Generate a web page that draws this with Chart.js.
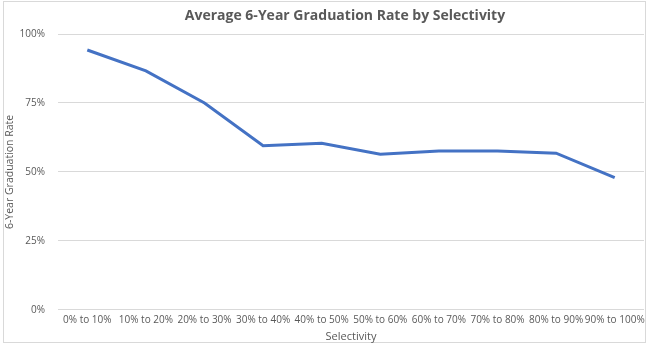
<!DOCTYPE html>
<html>
<head>
<meta charset="utf-8">
<script src="https://cdn.jsdelivr.net/npm/chart.js@4/dist/chart.umd.min.js"></script>
<style>
    body { margin: 0; background: #fff; }
    #wrap { width: 652px; height: 348px; }
</style>
</head>
<body>
<div id="wrap"><canvas id="grad-chart" width="652" height="348"></canvas></div>
<script>
"use strict";

var chartTitle = "Average 6-Year Graduation Rate by Selectivity";
var categories = ["0% to 10%", "10% to 20%", "20% to 30%", "30% to 40%", "40% to 50%",
    "50% to 60%", "60% to 70%", "70% to 80%", "80% to 90%", "90% to 100%"];
var gradRate = [94.2, 86.6, 75.0, 59.5, 60.4, 56.4, 57.6, 57.6, 56.8, 47.9];
var yTicks = [0, 25, 50, 75, 100];

var textColor = "#595959";
var gridColor = "#d9d9d9";
var fontFamily = "'Open Sans', 'Noto Sans', sans-serif";

/* frame + title drawn on the canvas, excel style */
var excelFrame = {
    id: "excelFrame",
    beforeDraw: function (chart) {
        var ctx = chart.ctx;
        ctx.save();
        ctx.fillStyle = "#fff";
        ctx.fillRect(0, 0, chart.width, chart.height);
        ctx.strokeStyle = gridColor;
        ctx.lineWidth = 1;
        ctx.strokeRect(3.5, 1.5, 642, 341);
        ctx.restore();
    },
    afterDraw: function (chart) {
        var ctx = chart.ctx;
        ctx.save();
        ctx.fillStyle = textColor;
        ctx.font = "bold 14px " + fontFamily;
        ctx.textAlign = "center";
        ctx.textBaseline = "middle";
        ctx.fillText(chartTitle, 345, 16);
        ctx.restore();
    }
};

var ctx = document.getElementById("grad-chart");
var gradChart = new Chart(ctx, {
    type: "line",
    data: {
        labels: categories,
        datasets: [
            {
                label: "6-Year Graduation Rate",
                data: gradRate,
                borderColor: "#4472c4",
                borderWidth: 3,
                pointRadius: 0,
                fill: false,
                tension: 0
            }
        ]
    },
    options: {
        responsive: false,
        animation: false,
        layout: { padding: { left: 4, right: 8, top: 34, bottom: 5 } },
        plugins: {
            legend: { display: false },
            tooltip: { enabled: false },
            title: { display: false }
        },
        scales: {
            x: {
                offset: true,
                grid: { display: false, drawTicks: false },
                border: { display: false },
                ticks: {
                    color: textColor,
                    font: { family: fontFamily, size: 10 },
                    padding: 4,
                    maxRotation: 0,
                    autoSkip: false
                },
                title: {
                    display: true,
                    text: "Selectivity",
                    color: textColor,
                    font: { family: fontFamily, size: 11 },
                    padding: { top: 0, bottom: 0 }
                }
            },
            y: {
                min: 0,
                max: 100,
                afterBuildTicks: function (scale) {
                    scale.ticks = yTicks.map(function (v) { return { value: v }; });
                },
                grid: { color: gridColor, lineWidth: 1, drawTicks: false },
                border: { display: false },
                ticks: {
                    color: textColor,
                    font: { family: fontFamily, size: 10 },
                    padding: 13,
                    callback: function (v) { return v + "%"; }
                },
                title: {
                    display: true,
                    text: "6-Year Graduation Rate",
                    color: textColor,
                    font: { family: fontFamily, size: 10.5 },
                    padding: { top: 0, bottom: 4 }
                },
                afterFit: function (scale) { scale.width = 54; }
            }
        }
    },
    plugins: [excelFrame]
});
</script>
</body>
</html>
